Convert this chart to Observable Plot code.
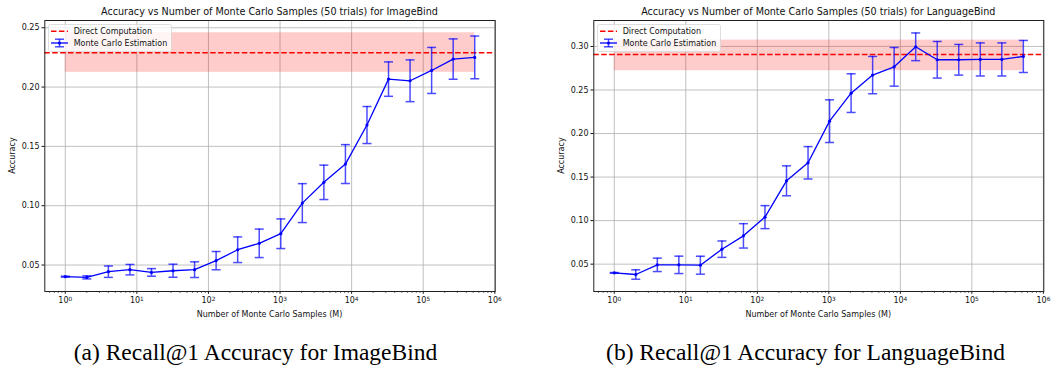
<!DOCTYPE html>
<html>
<head>
<meta charset="utf-8">
<script src="https://cdn.jsdelivr.net/npm/d3@7"></script>
<script src="https://cdn.jsdelivr.net/npm/@observablehq/plot@0.6"></script>
<style>
  html, body { margin: 0; padding: 0; background: #fff; }
  #wrap { position: relative; width: 1052px; height: 366px; overflow: hidden; background: #fff; }
  .panel { position: absolute; top: 0; width: 526px; height: 320px; }
  #overlay { position: absolute; left: 0; top: 0; pointer-events: none; }
</style>
</head>
<body>
<div id="wrap">
  <div id="p1" class="panel" style="left:0"></div>
  <div id="p2" class="panel" style="left:526px"></div>
  <svg id="overlay" width="1052" height="366" xmlns="http://www.w3.org/2000/svg"></svg>
</div>
<script>
// ---------- data ----------
const samples = [1, 2, 4, 8, 16, 32, 64, 128, 256, 512, 1024, 2048, 4096, 8192, 16384, 32768, 65536, 131072, 262144, 524288];

const imageAcc = [0.0402, 0.0396, 0.0444, 0.0461, 0.0438, 0.0452, 0.0461, 0.0537, 0.0629, 0.0683, 0.0764, 0.1022, 0.1197, 0.1351, 0.1680, 0.2067, 0.2053, 0.2140, 0.2236, 0.2250];
const imageErr = [0.0004, 0.0013, 0.0048, 0.0044, 0.0032, 0.0055, 0.0066, 0.0077, 0.0108, 0.0120, 0.0125, 0.0164, 0.0145, 0.0164, 0.0156, 0.0145, 0.0176, 0.0194, 0.0170, 0.0180];
const imageDirect = 0.2289;
const imageBand = [0.2124, 0.2458];

const langAcc = [0.0400, 0.0381, 0.0492, 0.0492, 0.0488, 0.0672, 0.0825, 0.1040, 0.1457, 0.1664, 0.2142, 0.2464, 0.2671, 0.2766, 0.2996, 0.2847, 0.2847, 0.2851, 0.2851, 0.2885];
const langErr = [0.0004, 0.0054, 0.0077, 0.0100, 0.0103, 0.0094, 0.0140, 0.0132, 0.0172, 0.0186, 0.0245, 0.0222, 0.0214, 0.0222, 0.0159, 0.0210, 0.0176, 0.0190, 0.0190, 0.0184];
const langDirect = 0.2908;
const langBand = [0.2721, 0.3073];

const xMajorTicks = [1, 10, 100, 1000, 10000, 100000, 1000000];
const xTickBase = "10";
const xTickExponents = ["0", "1", "2", "3", "4", "5", "6"];
const imageYTicks = [0.05, 0.10, 0.15, 0.20, 0.25];
const langYTicks = [0.05, 0.10, 0.15, 0.20, 0.25, 0.30];

const titles = [
  "Accuracy vs Number of Monte Carlo Samples (50 trials) for ImageBind",
  "Accuracy vs Number of Monte Carlo Samples (50 trials) for LanguageBind"
];
const captions = ["(a) Recall@1 Accuracy for ImageBind", "(b) Recall@1 Accuracy for LanguageBind"];
const xLabel = "Number of Monte Carlo Samples (M)";
const yLabel = "Accuracy";
const legendLabels = ["Direct Computation", "Monte Carlo Estimation"];

// minor log ticks (2..9 x 10^k)
const xMinorTicks = [];
for (let k = -1; k <= 5; k++) for (let d = 2; d <= 9; d++) xMinorTicks.push(d * Math.pow(10, k));

const capSymbol = { draw(ctx) { ctx.moveTo(-4.5, 0); ctx.lineTo(4.5, 0); } };

function makePlot({acc, err, direct, band, yTicks, yDomain, marginLeft, marginRight}) {
  const rows = samples.map((m, i) => ({m, acc: acc[i], lo: acc[i] - err[i], hi: acc[i] + err[i]}));
  const xDomain = [Math.pow(10, -0.286), Math.pow(10, 6.0056)];
  const minor = xMinorTicks.filter(v => v >= xDomain[0] && v <= xDomain[1]);
  const svg = Plot.plot({
    width: 526,
    height: 320,
    marginLeft, marginRight,
    marginTop: 20,
    marginBottom: 29,
    style: {fontFamily: "DejaVu Sans", fontSize: "8px", color: "#111", background: "#fff"},
    x: {type: "log", domain: xDomain, label: null},
    y: {domain: yDomain, label: null},
    marks: [
      Plot.gridX(xMajorTicks, {stroke: "#b0b0b0", strokeOpacity: 1, strokeWidth: 0.8}),
      Plot.gridY(yTicks, {stroke: "#b0b0b0", strokeOpacity: 1, strokeWidth: 0.8}),
      Plot.rect([{x1: samples[0], x2: samples[samples.length - 1], y1: band[0], y2: band[1]}],
        {x1: "x1", x2: "x2", y1: "y1", y2: "y2", fill: "#ff0000", fillOpacity: 0.2}),
      Plot.ruleY([direct], {stroke: "#ff0000", strokeWidth: 1.5, strokeDasharray: "5.5,2.4"}),
      Plot.ruleX(rows, {x: "m", y1: "lo", y2: "hi", stroke: "#0000ff", strokeOpacity: 0.7, strokeWidth: 1.5}),
      Plot.dot(rows, {x: "m", y: "hi", symbol: capSymbol, stroke: "#0000ff", strokeOpacity: 0.7, strokeWidth: 1.5, fill: "none"}),
      Plot.dot(rows, {x: "m", y: "lo", symbol: capSymbol, stroke: "#0000ff", strokeOpacity: 0.7, strokeWidth: 1.5, fill: "none"}),
      Plot.line(rows, {x: "m", y: "acc", stroke: "#0000ff", strokeWidth: 1.3}),
      Plot.dot(rows, {x: "m", y: "acc", r: 1.6, fill: "#0000ff", stroke: "none"}),
      Plot.axisX({ticks: minor, tickSize: 1.6, tickFormat: () => "", label: null, stroke: "#111"}),
      Plot.axisX({ticks: xMajorTicks, tickSize: 2.8, tickPadding: 3.5, label: null, stroke: "#111",
        tickFormat: (d) => "@" + xTickExponents[xMajorTicks.indexOf(d)], fontSize: 8}),
      Plot.axisY({ticks: yTicks, tickSize: 2.8, tickPadding: 2.5, label: null, stroke: "#111",
        tickFormat: d3.format(".2f"), fontSize: 8}),
      Plot.frame({stroke: "#222", strokeWidth: 1})
    ]
  });
  // render "10^k" tick labels with a real superscript
  d3.select(svg).selectAll("text").each(function() {
    const t = this.textContent;
    if (t.startsWith("@")) {
      const e = t.slice(1);
      const sel = d3.select(this);
      sel.text(null);
      sel.append("tspan").text(xTickBase);
      sel.append("tspan").attr("dy", "-0.45em").attr("font-size", "5.8px").text(e);
    }
  });
  return svg;
}

document.getElementById("p1").appendChild(makePlot({
  acc: imageAcc, err: imageErr, direct: imageDirect, band: imageBand,
  yTicks: imageYTicks, yDomain: [0.0277, 0.2561], marginLeft: 44.3, marginRight: 31.3
}));
document.getElementById("p2").appendChild(makePlot({
  acc: langAcc, err: langErr, direct: langDirect, band: langBand,
  yTicks: langYTicks, yDomain: [0.0186, 0.3298], marginLeft: 67.3, marginRight: 8.7
}));

// ---------- overlay text: titles, axis labels, legends, captions ----------
const ov = d3.select("#overlay");
const panels = [
  {frameL: 44.3, frameR: 494.7, yLabX: 15.2, legX: 48, capX: 255.5},
  {frameL: 593.3, frameR: 1043.3, yLabX: 564, legX: 597, capX: 805.5}
];
panels.forEach((p, i) => {
  const cx = (p.frameL + p.frameR) / 2;
  ov.append("text").attr("x", cx).attr("y", 15.4).attr("text-anchor", "middle")
    .attr("font-family", "DejaVu Sans").attr("font-size", 9.6).attr("fill", "#111").text(titles[i]);
  ov.append("text").attr("x", cx).attr("y", 317).attr("text-anchor", "middle")
    .attr("font-family", "DejaVu Sans").attr("font-size", 8).attr("fill", "#111").text(xLabel);
  ov.append("text").attr("transform", `translate(${p.yLabX},155.6) rotate(-90)`).attr("text-anchor", "middle")
    .attr("font-family", "DejaVu Sans").attr("font-size", 8).attr("fill", "#111").text(yLabel);
  ov.append("text").attr("x", p.capX).attr("y", 360).attr("text-anchor", "middle")
    .attr("font-family", "Liberation Serif").attr("font-size", 23.5).attr("fill", "#000").text(captions[i]);

  // legend
  const g = ov.append("g").attr("transform", `translate(${p.legX},24)`);
  g.append("rect").attr("x", 0.5).attr("y", 0.5).attr("width", 123).attr("height", 27).attr("rx", 2)
    .attr("fill", "#fff").attr("fill-opacity", 0.8).attr("stroke", "#d6d6d6").attr("stroke-width", 0.8);
  g.append("line").attr("x1", 3).attr("x2", 20).attr("y1", 7.2).attr("y2", 7.2)
    .attr("stroke", "#ff0000").attr("stroke-width", 1.5).attr("stroke-dasharray", "5.5,2.4");
  g.append("line").attr("x1", 3).attr("x2", 20).attr("y1", 19).attr("y2", 19)
    .attr("stroke", "#0000ff").attr("stroke-width", 1.3);
  g.append("line").attr("x1", 11.5).attr("x2", 11.5).attr("y1", 15.2).attr("y2", 22.8)
    .attr("stroke", "#0000ff").attr("stroke-opacity", 0.7).attr("stroke-width", 1.5);
  [15.2, 22.8].forEach(yy => g.append("line").attr("x1", 7).attr("x2", 16).attr("y1", yy).attr("y2", yy)
    .attr("stroke", "#0000ff").attr("stroke-opacity", 0.7).attr("stroke-width", 1.5));
  g.append("circle").attr("cx", 11.5).attr("cy", 19).attr("r", 1.6).attr("fill", "#0000ff");
  legendLabels.forEach((t, j) => g.append("text").attr("x", 25.7).attr("y", 7.2 + j * 11.8 + 2.9)
    .attr("font-family", "DejaVu Sans").attr("font-size", 8).attr("fill", "#111").text(t));
});
</script>
</body>
</html>
